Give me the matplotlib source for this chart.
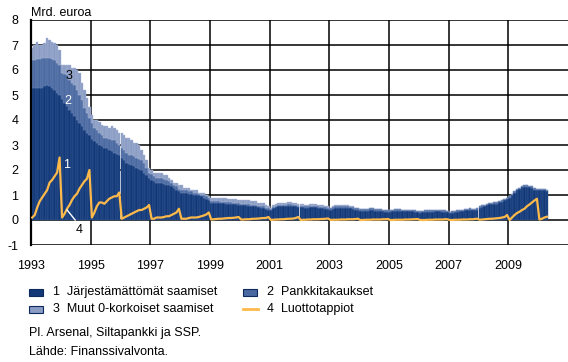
import matplotlib
matplotlib.use('Agg')
import matplotlib.pyplot as plt
import matplotlib.patches as patches
import matplotlib.lines as mlines
import numpy as np

plt.rcParams['font.family'] = ['Liberation Sans', 'DejaVu Sans']
plt.rcParams['font.size'] = 9
plt.rcParams['axes.unicode_minus'] = False

START_YEAR = 1993

# monthly values 1993/01 - 2010/04, Mrd. euroa
# 1 Järjestämättömät saamiset
unperforming = [
    5.3, 5.3, 5.3, 5.3, 5.3, 5.35, 5.4, 5.35, 5.3, 5.2, 5.1, 5.0,        # 1993
    4.85, 4.7, 4.55, 4.4, 4.3, 4.15, 4.0, 3.9, 3.75, 3.6, 3.5, 3.4,      # 1994
    3.25, 3.15, 3.1, 3.0, 2.95, 2.9, 2.9, 2.8, 2.75, 2.7, 2.65, 2.6,     # 1995
    2.5, 2.4, 2.3, 2.25, 2.2, 2.15, 2.1, 2.05, 2.0, 1.9, 1.8, 1.7,       # 1996
    1.6, 1.55, 1.5, 1.5, 1.5, 1.45, 1.4, 1.4, 1.35, 1.3, 1.2, 1.15,      # 1997
    1.1, 1.1, 1.1, 1.05, 1.05, 1.0, 1.0, 1.0, 0.95, 0.9, 0.85, 0.8,      # 1998
    0.7, 0.7, 0.7, 0.7, 0.68, 0.68, 0.66, 0.66, 0.66, 0.64, 0.64, 0.62,  # 1999
    0.6, 0.6, 0.6, 0.58, 0.55, 0.55, 0.55, 0.52, 0.5, 0.5, 0.45, 0.42,   # 2000
    0.4, 0.48, 0.52, 0.56, 0.56, 0.56, 0.56, 0.58, 0.58, 0.56, 0.56, 0.52,  # 2001
    0.52, 0.52, 0.5, 0.5, 0.52, 0.52, 0.52, 0.5, 0.48, 0.48, 0.46, 0.44,    # 2002
    0.4, 0.44, 0.48, 0.5, 0.5, 0.48, 0.48, 0.48, 0.47, 0.45, 0.41, 0.4,     # 2003
    0.38, 0.38, 0.38, 0.38, 0.4, 0.4, 0.38, 0.38, 0.38, 0.35, 0.33, 0.33,   # 2004
    0.33, 0.35, 0.38, 0.38, 0.38, 0.35, 0.35, 0.35, 0.35, 0.35, 0.33, 0.31, # 2005
    0.28, 0.31, 0.33, 0.33, 0.33, 0.33, 0.35, 0.35, 0.35, 0.33, 0.33, 0.31, # 2006
    0.27, 0.29, 0.32, 0.34, 0.36, 0.36, 0.39, 0.39, 0.41, 0.39, 0.39, 0.42, # 2007
    0.49, 0.54, 0.56, 0.59, 0.64, 0.64, 0.66, 0.66, 0.72, 0.74, 0.79, 0.84, # 2008
    0.89, 0.99, 1.09, 1.19, 1.24, 1.32, 1.34, 1.34, 1.32, 1.29, 1.22, 1.19, # 2009
    1.19, 1.19, 1.19, 1.16,                                                 # 2010
]

# 2 Pankkitakaukset
guarantees = [
    1.1, 1.1, 1.15, 1.15, 1.2, 1.15, 1.1, 1.15, 1.15, 1.2, 1.2, 1.2,
    1.05, 1.15, 1.25, 1.2, 1.2, 1.25, 1.2, 1.1, 1.05, 0.9, 0.8, 0.7,
    0.65, 0.55, 0.5, 0.5, 0.45, 0.4, 0.4, 0.45, 0.45, 0.5, 0.45, 0.4,
    0.4, 0.4, 0.4, 0.35, 0.4, 0.4, 0.4, 0.4, 0.4, 0.4, 0.3, 0.2,
    0.25, 0.2, 0.2, 0.2, 0.2, 0.2, 0.2, 0.15, 0.15, 0.1, 0.15, 0.1,
    0.1, 0.1, 0.1, 0.1, 0.1, 0.1, 0.1, 0.05, 0.05, 0.1, 0.1, 0.1,
    0.05, 0.05, 0.05, 0.05, 0.05, 0.05, 0.05, 0.05, 0.05, 0.05, 0.05, 0.05,
    0.05, 0.05, 0.05, 0.05, 0.05, 0.05, 0.05, 0.05, 0.05, 0.05, 0.05, 0.05,
    0.05, 0.05, 0.05, 0.05, 0.05, 0.05, 0.05, 0.05, 0.05, 0.05, 0.05, 0.05,
    0.06, 0.06, 0.06, 0.06, 0.06, 0.06, 0.06, 0.06, 0.06, 0.06, 0.06, 0.06,
    0.07, 0.07, 0.07, 0.07, 0.07, 0.07, 0.07, 0.07, 0.07, 0.07, 0.07, 0.07,
    0.07, 0.07, 0.07, 0.07, 0.07, 0.07, 0.07, 0.07, 0.07, 0.07, 0.07, 0.07,
    0.07, 0.07, 0.07, 0.07, 0.07, 0.07, 0.07, 0.07, 0.07, 0.07, 0.07, 0.07,
    0.07, 0.07, 0.07, 0.07, 0.07, 0.07, 0.07, 0.07, 0.07, 0.07, 0.07, 0.07,
    0.06, 0.06, 0.06, 0.06, 0.06, 0.06, 0.06, 0.06, 0.06, 0.06, 0.06, 0.06,
    0.06, 0.06, 0.06, 0.06, 0.06, 0.06, 0.06, 0.06, 0.06, 0.06, 0.06, 0.06,
    0.06, 0.06, 0.06, 0.06, 0.06, 0.06, 0.06, 0.06, 0.06, 0.06, 0.06, 0.06,
    0.06, 0.06, 0.06, 0.06,
]

# 3 Muut 0-korkoiset saamiset
other_zero = [
    0.5, 0.6, 0.65, 0.55, 0.5, 0.6, 0.8, 0.7, 0.65, 0.7, 0.7, 0.6,
    0.3, 0.35, 0.4, 0.6, 0.6, 0.7, 0.8, 0.9, 0.7, 0.7, 0.6, 0.4,
    0.3, 0.3, 0.4, 0.4, 0.4, 0.45, 0.45, 0.45, 0.55, 0.5, 0.5, 0.5,
    0.6, 0.6, 0.6, 0.7, 0.6, 0.55, 0.6, 0.55, 0.4, 0.3, 0.3, 0.2,
    0.15, 0.15, 0.2, 0.2, 0.2, 0.15, 0.2, 0.15, 0.1, 0.1, 0.15, 0.15,
    0.2, 0.1, 0.1, 0.15, 0.05, 0.1, 0.1, 0.05, 0.1, 0.1, 0.05, 0.05,
    0.15, 0.15, 0.15, 0.15, 0.17, 0.17, 0.19, 0.14, 0.14, 0.16, 0.16, 0.13,
    0.15, 0.15, 0.15, 0.17, 0.15, 0.15, 0.15, 0.13, 0.15, 0.15, 0.1, 0.08,
    0.05, 0.07, 0.08, 0.09, 0.09, 0.09, 0.09, 0.09, 0.09, 0.09, 0.09, 0.08,
    0.07, 0.07, 0.06, 0.06, 0.07, 0.07, 0.07, 0.06, 0.06, 0.06, 0.06, 0.05,
    0.03, 0.04, 0.05, 0.05, 0.05, 0.05, 0.05, 0.05, 0.04, 0.03, 0.02, 0.01,
    0, 0, 0, 0, 0, 0, 0, 0, 0, 0, 0, 0,
    0, 0, 0, 0, 0, 0, 0, 0, 0, 0, 0, 0,
    0, 0, 0, 0, 0, 0, 0, 0, 0, 0, 0, 0,
    0, 0, 0, 0, 0, 0, 0, 0, 0, 0, 0, 0,
    0, 0, 0, 0, 0, 0, 0, 0, 0, 0, 0, 0,
    0, 0, 0, 0, 0, 0, 0, 0, 0, 0, 0, 0,
    0, 0, 0, 0,
]

# 4 Luottotappiot (cumulative within year)
credit_losses = [
    0.1, 0.2, 0.5, 0.75, 0.9, 1.05, 1.2, 1.5, 1.6, 1.75, 1.9, 2.5,
    0.1, 0.25, 0.45, 0.6, 0.8, 0.95, 1.05, 1.25, 1.4, 1.55, 1.65, 2.0,
    0.1, 0.3, 0.55, 0.7, 0.7, 0.65, 0.75, 0.85, 0.9, 0.95, 0.95, 1.1,
    0.05, 0.1, 0.15, 0.2, 0.25, 0.3, 0.35, 0.4, 0.4, 0.45, 0.5, 0.6,
    0.05, 0.05, 0.1, 0.1, 0.1, 0.12, 0.15, 0.15, 0.2, 0.25, 0.3, 0.45,
    0.05, 0.05, 0.05, 0.08, 0.1, 0.1, 0.1, 0.12, 0.15, 0.18, 0.22, 0.3,
    0.02, 0.03, 0.04, 0.05, 0.05, 0.06, 0.07, 0.08, 0.08, 0.09, 0.1, 0.12,
    0.02, 0.02, 0.03, 0.03, 0.04, 0.05, 0.05, 0.06, 0.07, 0.08, 0.08, 0.12,
    0.0, 0.01, 0.02, 0.02, 0.03, 0.03, 0.04, 0.05, 0.05, 0.06, 0.08, 0.12,
    0.0, 0.01, 0.01, 0.02, 0.02, 0.03, 0.03, 0.03, 0.04, 0.04, 0.05, 0.06,
    0.0, 0.01, 0.01, 0.01, 0.02, 0.02, 0.02, 0.03, 0.03, 0.03, 0.04, 0.05,
    0.0, 0.0, 0.01, 0.01, 0.01, 0.02, 0.02, 0.02, 0.02, 0.03, 0.03, 0.04,
    0.0, 0.0, 0.01, 0.01, 0.01, 0.01, 0.02, 0.02, 0.02, 0.03, 0.03, 0.04,
    0.0, 0.0, 0.0, 0.01, 0.01, 0.01, 0.02, 0.02, 0.02, 0.02, 0.03, 0.03,
    0.0, 0.0, 0.01, 0.01, 0.01, 0.02, 0.02, 0.02, 0.03, 0.03, 0.04, 0.05,
    0.01, 0.02, 0.03, 0.04, 0.05, 0.05, 0.06, 0.07, 0.08, 0.1, 0.12, 0.2,
    0.0, 0.1, 0.2, 0.28, 0.33, 0.4, 0.45, 0.55, 0.62, 0.7, 0.78, 0.85,
    0.02, 0.05, 0.1, 0.13,
]

labels = ['1  Järjestämättömät saamiset', '2  Pankkitakaukset',
          '3  Muut 0-korkoiset saamiset', '4  Luottotappiot']
year_ticks = list(range(1993, 2011, 2))

C1 = '#123878'
C2 = '#4a69a1'
C3 = '#8a9cc4'
C4 = '#fdb94a'


def main():
    s1 = np.array(unperforming)
    s2 = np.array(guarantees)
    s3 = np.array(other_zero)
    x = START_YEAR + (np.arange(len(s1)) + 0.5) / 12

    fig = plt.figure(figsize=(5.68, 3.62), dpi=100)
    ax = fig.add_axes([31 / 568, 1 - 245 / 362, 1 - 31 / 568, 225 / 362])

    w = 1 / 12
    ax.bar(x, s1, width=w, color=C1, edgecolor='#3c5f98', linewidth=0.3,
           zorder=2)
    ax.bar(x, s2, width=w, bottom=s1, color=C2, edgecolor='#6f88b8',
           linewidth=0.3, zorder=2)
    ax.bar(x, s3, width=w, bottom=s1 + s2, color=C3, edgecolor='#aab8d6',
           linewidth=0.3, zorder=2)
    ax.plot(x, credit_losses, color=C4, linewidth=1.6, zorder=3)

    ax.set_xlim(1993, 2011)
    ax.set_ylim(-1, 8)
    ax.set_yticks(range(-1, 9))
    ax.set_xticks(year_ticks)
    ax.grid(True, color='black', linewidth=1.1)
    ax.set_axisbelow(True)
    ax.tick_params(length=0)
    ax.tick_params(axis='y', pad=9)
    ax.tick_params(axis='x', pad=11)
    for side in ['top', 'right', 'bottom']:
        ax.spines[side].set_visible(False)
    ax.spines['left'].set_linewidth(1.6)

    # series labels inside the chart
    ax.text(1994.27, 5.76, '3', ha='center', va='center', color='black')
    ax.text(1994.24, 4.76, '2', ha='center', va='center', color='white')
    ax.text(1994.2, 2.2, '1', ha='center', va='center', color='white')
    ax.plot([1994.21, 1994.48], [0.4, 0.0], color='white', linewidth=1, zorder=4)
    ax.text(1994.62, -0.4, '4', ha='center', va='center', color='black')

    fig.text(31 / 568, 1 - 13 / 362, 'Mrd. euroa', ha='left', va='center')

    # legend
    cols = [29, 243]
    rows = [292, 309]
    fills = [C1, C2, C3]
    for i, lab in enumerate(labels):
        px = cols[i % 2]
        py = rows[i // 2]
        if i < 3:
            fig.add_artist(patches.Rectangle(
                (px / 568, 1 - (py + 3.5) / 362), 14 / 568, 7 / 362,
                transform=fig.transFigure, facecolor=fills[i],
                edgecolor='#0d2a5c', linewidth=0.8
            ))
        else:
            fig.add_artist(mlines.Line2D(
                [px / 568, (px + 15) / 568], [1 - py / 362, 1 - py / 362],
                transform=fig.transFigure, color=C4, linewidth=2
            ))
        fig.text((px + 24) / 568, 1 - py / 362, lab, ha='left', va='center')

    fig.text(29 / 568, 1 - 333 / 362, 'Pl. Arsenal, Siltapankki ja SSP.',
             ha='left', va='center')
    fig.text(29 / 568, 1 - 352 / 362, 'Lähde: Finanssivalvonta.',
             ha='left', va='center')

    fig.savefig('out.png', dpi=100)


if __name__ == '__main__':
    main()
